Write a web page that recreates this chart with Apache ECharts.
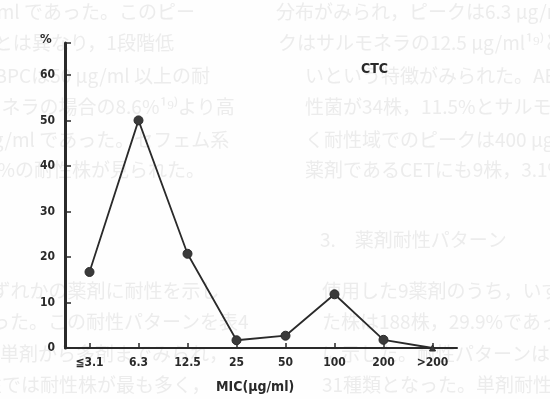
<!DOCTYPE html>
<html><head><meta charset="utf-8">
<script src="https://cdn.jsdelivr.net/npm/echarts@6/dist/echarts.min.js"></script>
<style>html,body{margin:0;padding:0;background:#fefefe}#c{width:550px;height:399px}</style>
</head><body><div id="c"></div>
<script>
// ---- data ----
const categories = ['≦3.1', '6.3', '12.5', '25', '50', '100', '200', '>200'];
const percentValues = [16.7, 50, 20.7, 1.7, 2.7, 11.8, 1.8, 0];
const yTickLabels = [0, 10, 20, 30, 40, 50, 60];
const chartTitle = 'CTC';
const xAxisTitle = 'MIC(μg/ml)';
const yAxisTitle = '%';
// faint text of the scanned page behind the figure
const pageLines = [
  '分布がみられ，ピークは6.3 μg/ml であった。このピー',
  'クはサルモネラの12.5 μg/ml¹⁹⁾とは異なり，1段階低',
  'いという特徴がみられた。ABPCは50 μg/ml 以上の耐',
  '性菌が34株，11.5%とサルモネラの場合の8.6%¹⁹⁾より高',
  'く耐性域でのピークは400 μg/ml であった。セフェム系',
  '薬剤であるCETにも9株，3.1%の耐性株が見られた。',
  '3.　薬剤耐性パターン',
  '使用した9薬剤のうち，いずれかの薬剤に耐性を示し',
  'た株は188株，29.9%であった。この耐性パターンを表4',
  'に示した。耐性パターンは単剤から多剤までみられ，',
  '31種類となった。単剤耐性では耐性株が最も多く，'
];

// ---- layout ----
const ink = '#2a2a2a';
const narrow = '"DejaVu Sans Condensed","Liberation Sans Narrow",sans-serif';
const rowY = [12, 43, 76, 107, 140, 170, 240, 291, 322, 354, 385];
const rowX = [276, 278, 305, 305, 305, 305, 320, 322, 322, 322, 322];

const graphics = [];
pageLines.forEach((t, i) => {
  const shifts = (i === 6) ? [0] : [0, -550];
  shifts.forEach(s => {
    graphics.push({
      type: 'text', z: -10, silent: true,
      x: rowX[i] + s, y: rowY[i],
      style: { text: t, font: '19px "Noto Sans CJK JP"', fill: '#ececec', verticalAlign: 'middle' }
    });
  });
});

const titleStyle = size => ({ color: ink, fontFamily: narrow, fontWeight: 'bold', fontSize: size });

const option = {
  backgroundColor: '#fefefe',
  animation: false,
  title: [
    { text: yAxisTitle, left: 40, top: 33, padding: 0, textStyle: titleStyle(13) },
    { text: chartTitle, left: 361, top: 62, padding: 0, textStyle: titleStyle(14) },
    { text: xAxisTitle, left: 216, top: 380, padding: 0, textStyle: titleStyle(14) }
  ],
  grid: { left: 65, right: 93, top: 43, bottom: 51 },
  xAxis: {
    type: 'category',
    data: categories,
    boundaryGap: true,
    axisLine: { show: true, lineStyle: { color: ink, width: 2 } },
    axisTick: { show: true, alignWithLabel: true, inside: true, length: 5, lineStyle: { color: ink, width: 1.5 } },
    axisLabel: { color: ink, fontFamily: narrow, fontWeight: 'bold', fontSize: 12, margin: 9 },
    splitLine: { show: false }
  },
  yAxis: {
    type: 'value',
    min: 0, max: 67, interval: 10,
    axisLine: { show: true, lineStyle: { color: ink, width: 3 } },
    axisTick: { show: true, inside: true, length: 6, lineStyle: { color: ink, width: 1.5 } },
    axisLabel: {
      color: ink, fontFamily: narrow, fontWeight: 'bold', fontSize: 12, margin: 10,
      formatter: v => yTickLabels.indexOf(v) >= 0 ? String(v) : ''
    },
    splitLine: { show: false }
  },
  series: [{
    type: 'line',
    data: percentValues.map((v, i) => i === percentValues.length - 1
      ? { value: v, symbol: 'triangle', symbolSize: 6 } : v),
    symbol: 'circle',
    symbolSize: 9,
    lineStyle: { color: ink, width: 1.8 },
    itemStyle: { color: '#3a3a3a', borderColor: ink, borderWidth: 1 },
    z: 5
  }],
  graphic: graphics
};

const chart = echarts.init(document.getElementById('c'), null, { renderer: 'canvas' });
chart.setOption(option);
chart.getZr().refreshImmediately();
// re-render once fonts are ready so every element is painted in the final frame
const rerender = () => { chart.setOption(option, true); chart.getZr().refreshImmediately(); };
if (document.fonts && document.fonts.ready) document.fonts.ready.then(rerender);
setTimeout(rerender, 300);
</script></body></html>
